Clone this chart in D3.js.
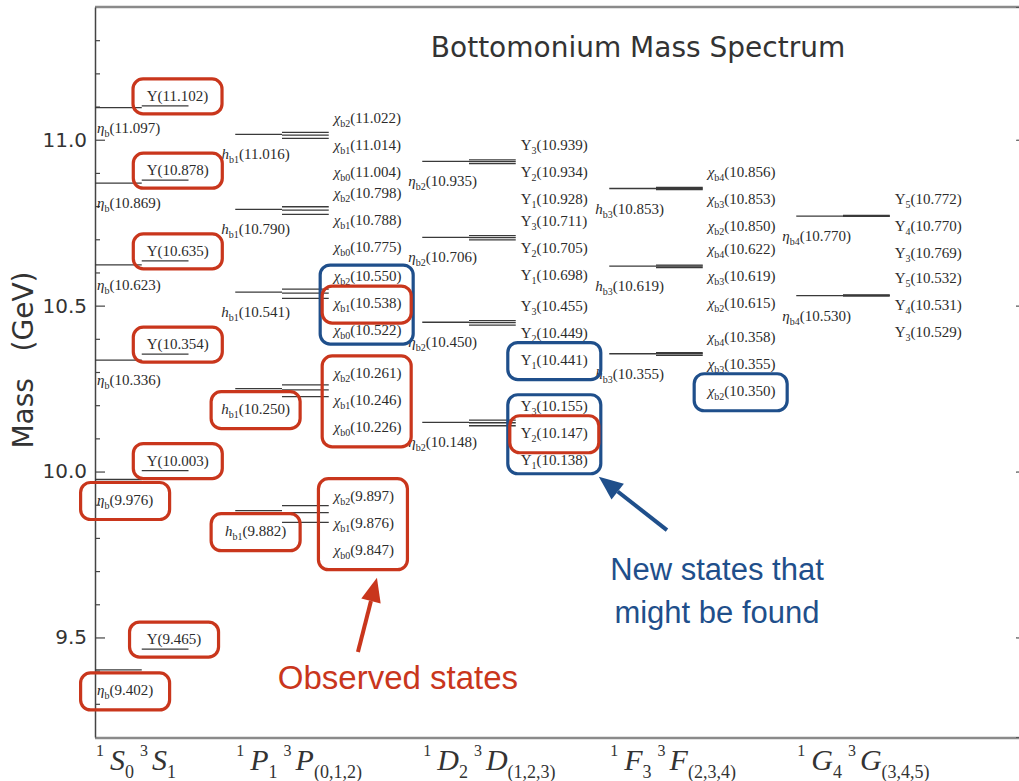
<!DOCTYPE html>
<html><head><meta charset="utf-8">
<script src="https://cdn.jsdelivr.net/npm/d3@7"></script>
<style>
body{margin:0;background:#fff}
svg{display:block}
.state{font-family:"Liberation Serif","DejaVu Serif",serif;font-size:15px;fill:#2b2b2b}
.tick text{font-family:"DejaVu Sans",sans-serif;font-size:20px;fill:#333}
</style>
</head><body>
<svg id="chart" width="1019" height="781"></svg>
<script>
// ---------------- data ----------------
const waves = ["S","P","D","F","G"];
const waveSingletSub = ["0","1","2","3","4"];
const waveTripletSub = ["1","(0,1,2)","(1,2,3)","(2,3,4)","(3,4,5)"];
const singletSymbol = ["η","h","η","h","η"];
const singletSub = ["b","b1","b2","b3","b4"];
const tripletSymbol = ["Υ","χ","Υ","χ","Υ"];
const tripletSubPrefix = ["","b","","b",""];
const tripletJ = [[""],[2,1,0],[3,2,1],[4,3,2],[5,4,3]];
const singletMasses = [
  [9.402, 9.976, 10.336, 10.623, 10.869, 11.097],
  [9.882, 10.250, 10.541, 10.790, 11.016],
  [10.148, 10.450, 10.706, 10.935],
  [10.355, 10.619, 10.853],
  [10.530, 10.770]
];
const tripletMasses = [
  [[9.465],[10.003],[10.354],[10.635],[10.878],[11.102]],
  [[9.897,9.876,9.847],[10.261,10.246,10.226],[10.550,10.538,10.522],[10.798,10.788,10.775],[11.022,11.014,11.004]],
  [[10.155,10.147,10.138],[10.455,10.449,10.441],[10.711,10.705,10.698],[10.939,10.934,10.928]],
  [[10.358,10.355,10.350],[10.622,10.619,10.615],[10.856,10.853,10.850]],
  [[10.532,10.531,10.529],[10.772,10.770,10.769]]
];
// highlighted states: wave:kind(s=singlet,t=triplet):multiplet[:member]
const observedStates = ["S:t:0","S:t:1","S:t:2","S:t:3","S:t:4","S:t:5","S:s:0","S:s:1",
  "P:s:0","P:s:1","P:t:0","P:t:1","P:t:2:1","D:t:0:1"];
const newStates = ["P:t:2","D:t:1:2","D:t:0","F:t:0:2"];
const yMajorTicks = [9.5, 10.0, 10.5, 11.0];
const yMinorTicks = [9.3,9.4,9.6,9.7,9.8,9.9,10.1,10.2,10.3,10.4,10.6,10.7,10.8,10.9,11.1,11.2,11.3];
const chartTitle = "Bottomonium Mass Spectrum";
const yAxisTitle = "Mass   (GeV)";
const noteObserved = "Observed states";
const noteNew = ["New states that","might be found"];

// ---------------- layout ----------------
const W = 1019, H = 781;
const svg = d3.select("#chart");
const x = d3.scaleLinear().domain([0.25, 5.25]).range([95, 1030]);
const y = d3.scaleLinear().domain([9.2, 11.4]).range([737, 7]);
const colStart = [0.25, 1, 2, 3, 4];
const half = 0.25;
const RED = "#c9361c", BLUE = "#1f4f8b";
const fmt = d3.format(".3f");

// spines
svg.append("line").attr("x1",95).attr("x2",W).attr("y1",y(11.4)).attr("y2",y(11.4))
  .attr("stroke","#8a8a8a").attr("stroke-width",2.5);
svg.append("line").attr("x1",95).attr("x2",W).attr("y1",y(9.2)+1).attr("y2",y(9.2)+1)
  .attr("stroke","#8a8a8a").attr("stroke-width",2.5);

// left axis
const gL = svg.append("g").attr("transform",`translate(${x(0.25)},0)`)
  .call(d3.axisLeft(y).tickValues(yMajorTicks).tickSize(-10).tickSizeOuter(0).tickPadding(8).tickFormat(d3.format(".1f")));
gL.select(".domain").attr("stroke","#444").attr("stroke-width",1.5);
gL.selectAll(".tick line").attr("stroke","#444").attr("stroke-width",1.2);
const gLm = svg.append("g").attr("transform",`translate(${x(0.25)},0)`)
  .call(d3.axisLeft(y).tickValues(yMinorTicks).tickSize(-5).tickFormat(""));
gLm.select(".domain").remove();
gLm.selectAll(".tick line").attr("stroke","#444").attr("stroke-width",1.2);
// right axis (spine lies just outside the picture)
const gR = svg.append("g").attr("transform",`translate(${x(5.25)-2},0)`)
  .call(d3.axisRight(y).tickValues(yMajorTicks).tickSize(-12).tickFormat(""));
gR.selectAll(".tick line").attr("stroke","#555").attr("stroke-width",1.2);
gR.select(".domain").attr("stroke","#555");

// titles
svg.append("text").attr("x",638).attr("y",57).attr("text-anchor","middle")
  .attr("font-family","DejaVu Sans, sans-serif").attr("font-size",28).attr("fill","#333").text(chartTitle);
svg.append("text").attr("transform",`translate(33,${y(10.336)}) rotate(-90)`).attr("text-anchor","middle")
  .attr("font-family","DejaVu Sans, sans-serif").attr("font-size",28).attr("fill","#333")
  .style("white-space","pre").text(yAxisTitle);

// wave labels on x axis
waves.forEach((L,i) => {
  const t = svg.append("text").attr("x", x(colStart[i])+1)
    .attr("font-family","Liberation Serif, DejaVu Serif, serif").attr("fill","#333");
  t.append("tspan").attr("y",756).attr("font-size",16).text("1");
  t.append("tspan").attr("y",770).attr("dx",6).attr("font-size",30).attr("font-style","italic").text(L);
  t.append("tspan").attr("y",778).attr("font-size",18).text(waveSingletSub[i]);
  t.append("tspan").attr("y",756).attr("dx",6).attr("font-size",16).text("3");
  t.append("tspan").attr("y",770).attr("dx",4).attr("font-size",30).attr("font-style","italic").text(L);
  t.append("tspan").attr("y",778).attr("font-size",18).text(waveTripletSub[i]);
});

// state label helper
const labels = {};
function stateLabel(sym, sub, mass, italic) {
  const t = svg.append("text").attr("class","state");
  t.append("tspan").attr("font-style", italic ? "italic" : "normal").text(sym);
  if (sub !== "") t.append("tspan").attr("font-size",10).attr("dy",4).text(sub);
  t.append("tspan").attr("dy", sub !== "" ? -4 : 0).text("(" + fmt(mass) + ")");
  return t;
}

const lev = svg.append("g").attr("stroke","#3a3a3a").attr("stroke-width",1.3);

waves.forEach((L,i) => {
  const x0 = x(colStart[i]), x1 = x(colStart[i]+half), x2 = x(colStart[i]+2*half);
  // singlets
  singletMasses[i].forEach((m,k) => {
    lev.append("line").attr("x1",x0).attr("x2",x1).attr("y1",y(m)).attr("y2",y(m));
    const t = stateLabel(singletSymbol[i], singletSub[i], m, true)
      .attr("x",(x0+x1)/2 - 3).attr("y",y(m)+25).attr("text-anchor","middle");
    const bb = t.node().getBBox();
    if (bb.x < x(0.25)+2) t.attr("x", (x0+x1)/2 - 3 + (x(0.25)+2-bb.x));
    labels[`${L}:s:${k}`] = t;
  });
  // triplets
  tripletMasses[i].forEach((grp,g) => {
    grp.forEach((m,k) => {
      lev.append("line").attr("x1",x1).attr("x2",x2).attr("y1",y(m)).attr("y2",y(m));
    });
    grp.forEach((m,k) => {
      const J = tripletJ[i][k];
      const sub = tripletSubPrefix[i] + J;
      const t = stateLabel(tripletSymbol[i], sub, m, tripletSymbol[i] === "χ");
      if (grp.length === 1) {
        t.attr("x", x1+5).attr("y", y(m)-5);
      } else {
        const mid = y(grp[1]);
        t.attr("x", x2+5).attr("y", mid + 15 + (k-1)*27);
      }
      labels[`${L}:t:${g}:${k}`] = t;
    });
  });
});

// highlight boxes
function expand(spec) {
  if (labels[spec]) return [labels[spec]];
  return Object.keys(labels).filter(k => k.startsWith(spec + ":")).map(k => labels[k]);
}
const boxes = {};
function drawBox(spec, color, w) {
  const nodes = expand(spec);
  const bbs = nodes.map(n => n.node().getBBox());
  const left = d3.min(bbs, b => b.x), right = d3.max(bbs, b => b.x + b.width);
  const top = d3.min(bbs, b => b.y), bot = d3.max(bbs, b => b.y + b.height);
  const padV = (nodes.length > 1 && color === BLUE) ? 3 : 9;
  const cx = (left+right)/2;
  const r = {x: cx - w/2, y: top - padV, w: w, h: bot - top + 2*padV};
  svg.append("rect").attr("x",r.x).attr("y",r.y).attr("width",r.w).attr("height",r.h)
    .attr("rx",10).attr("fill","none").attr("stroke",color).attr("stroke-width",3.2);
  boxes[spec] = r;
}
newStates.forEach(s => drawBox(s, BLUE, 93));
observedStates.forEach(s => drawBox(s, RED, 89));

// notes
svg.append("text").attr("x",x(1.87)).attr("y",y(9.345)).attr("text-anchor","middle")
  .attr("font-family","Liberation Sans, Arial, sans-serif").attr("font-size",33).attr("fill",RED).text(noteObserved);
noteNew.forEach((s,k) => {
  svg.append("text").attr("x",x(3.576)).attr("y",y(9.673) + k*43).attr("text-anchor","middle")
    .attr("font-family","Liberation Sans, Arial, sans-serif").attr("font-size",31).attr("fill",BLUE).text(s);
});

function arrow(x0,y0,x1,y1,color) {
  const a = Math.atan2(y1-y0, x1-x0), hl = 24, hw = 10;
  const bx = x1 - hl*Math.cos(a), by = y1 - hl*Math.sin(a);
  svg.append("line").attr("x1",x0).attr("y1",y0).attr("x2",bx).attr("y2",by)
    .attr("stroke",color).attr("stroke-width",4);
  const pts = [[x1,y1],[bx + hw*Math.sin(a), by - hw*Math.cos(a)],[bx - hw*Math.sin(a), by + hw*Math.cos(a)]];
  svg.append("polygon").attr("points", pts.map(p=>p.join(",")).join(" ")).attr("fill",color);
}
const bo = boxes["P:t:0"];
arrow(x(1.87)-40, y(9.345)-37, bo.x + bo.w/2 + 14, bo.y + bo.h + 8, RED);
const bn = boxes["D:t:0"];
arrow(x(3.576)-50, y(9.673)-50, bn.x + bn.w - 2, bn.y + bn.h + 3, BLUE);
</script>
</body></html>
